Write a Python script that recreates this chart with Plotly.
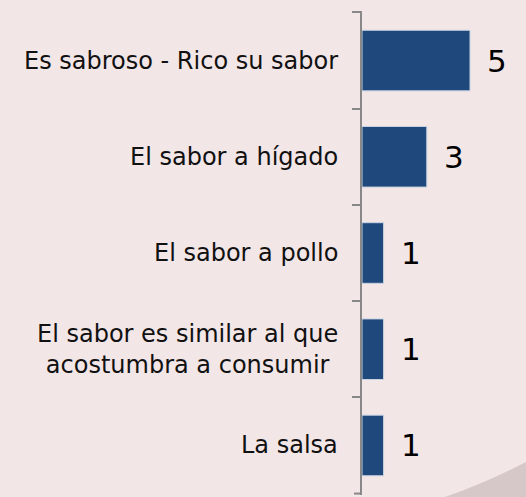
import plotly.graph_objects as go

categories = [
    "Es sabroso - Rico su sabor",
    "El sabor a hígado",
    "El sabor a pollo",
    "El sabor es similar al que<br>acostumbra a consumir",
    "La salsa",
]
values = [5, 3, 1, 1, 1]

W, H = 526, 497
ml, mr, mt, mb = 362, 0, 11, 2
plot_w = W - ml - mr
plot_h = H - mt - mb
px_per_unit = 21.6
xmax = plot_w / px_per_unit

BG = "#f3e6e7"
BAR = "#1f497d"
AXC = "#888888"
FONT = "DejaVu Sans, Verdana, sans-serif"

fig = go.Figure()
fig.add_trace(go.Bar(
    x=values,
    y=categories,
    orientation="h",
    width=0.63,
    marker=dict(color=BAR, line=dict(color="#c9d3e3", width=1)),
    hoverinfo="skip",
))

annotations = []
for c, v in zip(categories, values):
    annotations.append(dict(
        x=v, y=c, xref="x", yref="y", text=str(v), showarrow=False,
        xanchor="left", yanchor="middle", xshift=15,
        font=dict(family=FONT, size=31, color="#000000"),
    ))
    annotations.append(dict(
        x=-22 / plot_w, y=c, xref="paper", yref="y", text=c, showarrow=False,
        xanchor="right", yanchor="middle", align="center",
        font=dict(family=FONT, size=24, color="#111111"),
    ))

n = len(categories)
eps = 0.015
fig.update_layout(
    width=W, height=H,
    margin=dict(l=ml, r=mr, t=mt, b=mb, pad=0),
    paper_bgcolor=BG, plot_bgcolor="rgba(0,0,0,0)",
    showlegend=False,
    annotations=annotations,
    shapes=[
        dict(
            type="path", xref="paper", yref="paper",
            path="M {x0} {y0} Q {xc} {yc} {x1} {y1} L {x1} {y0} Z".format(
                x0=(445 - ml) / plot_w, y0=-mb / plot_h,
                xc=(485 - ml) / plot_w, yc=(H - mb - 483) / plot_h,
                x1=1.0, y1=(H - mb - 462) / plot_h),
            fillcolor="#d6c8c8", line=dict(width=0), layer="above",
        ),
        dict(
            type="line", xref="paper", yref="y",
            x0=-8 / plot_w, x1=0, y0=n - 0.5, y1=n - 0.5,
            line=dict(color=AXC, width=2),
        ),
    ],
    xaxis=dict(range=[0, xmax], visible=False, fixedrange=True),
    yaxis=dict(
        type="category", range=[n - 0.5 + eps, -0.5 - eps],
        categoryorder="array", categoryarray=categories,
        showticklabels=False, showgrid=False, zeroline=False,
        showline=True, linecolor=AXC, linewidth=2,
        ticks="outside", ticklen=8, tickcolor=AXC, tickwidth=2,
        tickson="boundaries", fixedrange=True,
    ),
)

fig.write_html(
    "out.html",
    config={"displayModeBar": False, "staticPlot": True},
    post_script="document.body.style.margin='0';document.body.style.background='%s';" % BG,
)
